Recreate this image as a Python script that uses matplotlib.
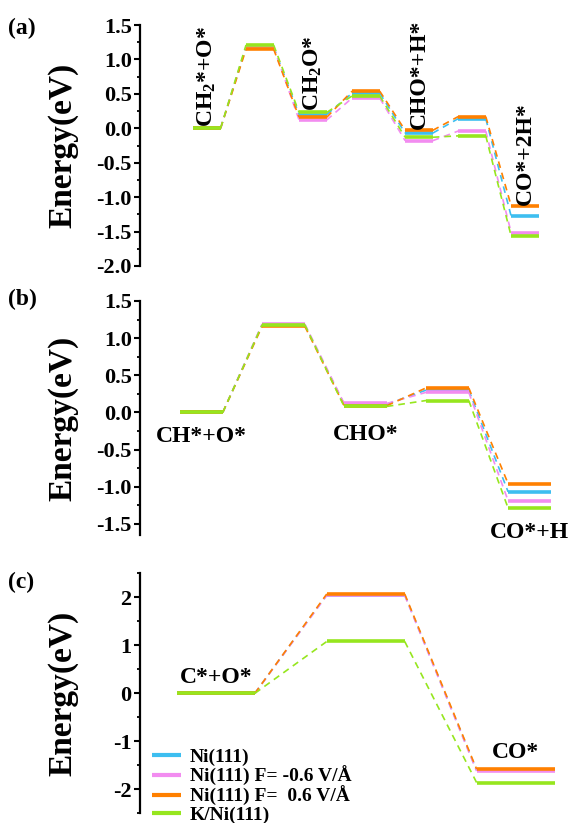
import numpy as np
import matplotlib
matplotlib.use("Agg")
import matplotlib.pyplot as plt
from matplotlib.ticker import MultipleLocator

plt.rcParams['font.family'] = ['Liberation Serif', 'DejaVu Serif']
plt.rcParams['font.weight'] = 'bold'
plt.rcParams['axes.unicode_minus'] = False
plt.rcParams['mathtext.fontset'] = 'custom'
plt.rcParams['mathtext.rm'] = 'Liberation Serif:bold'
plt.rcParams['mathtext.it'] = 'Liberation Serif:bold'
plt.rcParams['mathtext.bf'] = 'Liberation Serif:bold'

# ── Dati: energie relative (eV) ───────────────────────────────────────────────
series_names = ['Ni(111)', 'Ni(111) F= -0.6 V/Å', 'Ni(111) F=  0.6 V/Å', 'K/Ni(111)']
colors = ['#3DBEF0', '#F28CF0', '#FF8000', '#96E61E']

# (a) CH2* + O* -> CO* + 2H*
states_a = ['CH$_2$*+O*', 'TS1', 'CH$_2$O*', 'TS2', 'CHO*+H*', 'TS3', 'CO*+2H*']
E_a_ni = [0.0, 1.18, 0.20, 0.51, -0.07, 0.14, -1.28]
E_a_neg = [0.0, 1.18, 0.12, 0.44, -0.18, -0.04, -1.52]
E_a_pos = [0.0, 1.15, 0.16, 0.54, -0.03, 0.17, -1.13]
E_a_k = [0.0, 1.21, 0.23, 0.47, -0.13, -0.11, -1.57]

# (b) CH* + O* -> CO* + H
states_b = ['CH*+O*', 'TS1', 'CHO*', 'TS2', 'CO*+H']
E_b_ni = [0.0, 1.18, 0.11, 0.30, -1.07]
E_b_neg = [0.0, 1.19, 0.12, 0.27, -1.19]
E_b_pos = [0.0, 1.16, 0.09, 0.33, -0.96]
E_b_k = [0.0, 1.18, 0.08, 0.16, -1.29]

# (c) C* + O* -> CO*
states_c = ['C*+O*', 'TS', 'CO*']
E_c_ni = [0.0, 2.05, -1.60]
E_c_neg = [0.0, 2.04, -1.62]
E_c_pos = [0.0, 2.07, -1.58]
E_c_k = [0.0, 1.08, -1.86]

W = 0.52  # larghezza dei livelli


def draw_profile(ax, energies, color, label=None):
    for i, e in enumerate(energies):
        ax.plot([i, i + W], [e, e], color=color, lw=2.6, solid_capstyle='butt',
                label=label if i == 0 else None, zorder=3)
        if i < len(energies) - 1:
            ax.plot([i + W, i + 1], [e, energies[i + 1]], color=color, lw=1.2,
                    dashes=(4, 3), zorder=2)


def style_axis(ax, ylim, major, minor, fmt):
    ax.set_ylim(*ylim)
    for s in ['top', 'right', 'bottom']:
        ax.spines[s].set_visible(False)
    ax.spines['left'].set_linewidth(1.6)
    ax.set_xticks([])
    ax.yaxis.set_major_locator(MultipleLocator(major))
    ax.yaxis.set_minor_locator(MultipleLocator(minor))
    ax.tick_params(axis='y', which='major', direction='out', length=4, width=1.5,
                   labelsize=16, pad=2)
    ax.tick_params(axis='y', which='minor', direction='out', length=2.5, width=1.3)
    ax.yaxis.set_major_formatter(fmt)
    ax.set_ylabel('Energy(eV)', fontsize=24, fontweight='bold')
    ax.yaxis.set_label_coords(-0.14, 0.5)


fig = plt.figure(figsize=(5.77, 8.23), dpi=100)
ax_a = fig.add_axes([0.2426, 0.6768, 0.7574, 0.2928])
ax_b = fig.add_axes([0.2426, 0.3500, 0.7574, 0.2843])
ax_c = fig.add_axes([0.2426, 0.0118, 0.7574, 0.2916])

# ── Pannello (a) ──────────────────────────────────────────────────────────────
for E, c in zip([E_a_ni, E_a_neg, E_a_pos, E_a_k], colors):
    draw_profile(ax_a, E, c)
ax_a.set_xlim(-1.0, 7.24)
style_axis(ax_a, (-2.0, 1.5), 0.5, 0.25, '{x:.1f}')
tops_a = np.max([E_a_ni, E_a_neg, E_a_pos, E_a_k], axis=0)
for i, name in enumerate(states_a):
    if name.startswith('TS'):
        continue
    ax_a.text(i + W / 2, tops_a[i] + 0.02, name, rotation=90, ha='center', va='bottom',
              fontsize=17, fontweight='bold')

# ── Pannello (b) ──────────────────────────────────────────────────────────────
for E, c in zip([E_b_ni, E_b_neg, E_b_pos, E_b_k], colors):
    draw_profile(ax_b, E, c)
ax_b.set_xlim(-0.49, 4.84)
style_axis(ax_b, (-1.65, 1.5), 0.5, 0.25, '{x:.1f}')
ax_b.text(0 + W / 2, -0.18, states_b[0], ha='center', va='top', fontsize=17)
ax_b.text(2 + W / 2, -0.15, states_b[2], ha='center', va='top', fontsize=17)
ax_b.text(4 + W / 2, -1.47, states_b[4], ha='center', va='top', fontsize=17)

# ── Pannello (c) ──────────────────────────────────────────────────────────────
for E, c, n in zip([E_c_ni, E_c_neg, E_c_pos, E_c_k], colors, series_names):
    draw_profile(ax_c, E, c, label=n)
ax_c.set_xlim(-0.247, 2.67)
style_axis(ax_c, (-2.5, 2.5), 1, 0.5, '{x:.0f}')
ax_c.text(0 + W / 2, 0.12, states_c[0], ha='center', va='bottom', fontsize=17)
ax_c.text(2 + W / 2, -1.45, states_c[2], ha='center', va='bottom', fontsize=17)

leg = ax_c.legend(loc='lower left', bbox_to_anchor=(0.01, -0.075), frameon=False,
                  fontsize=14, handlelength=1.5, handletextpad=0.45,
                  labelspacing=0.0, borderaxespad=0.0)
for line in leg.get_lines():
    line.set_linewidth(3)

# etichette dei pannelli
fig.text(0.013, 0.966, '(a)', fontsize=17, fontweight='bold', va='center')
fig.text(0.013, 0.636, '(b)', fontsize=17, fontweight='bold', va='center')
fig.text(0.013, 0.292, '(c)', fontsize=17, fontweight='bold', va='center')

fig.savefig('out.png', dpi=100)
